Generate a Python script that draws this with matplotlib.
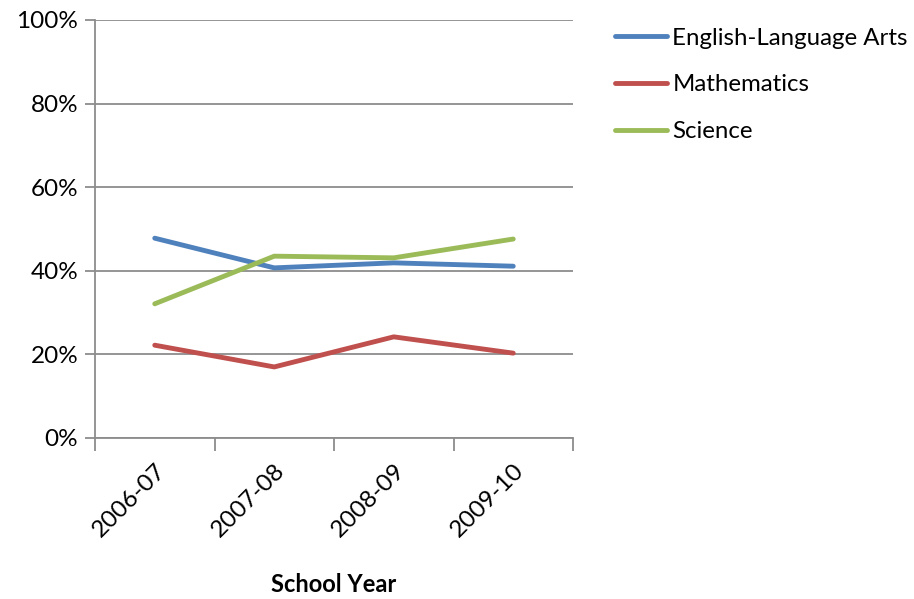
import matplotlib
matplotlib.use("Agg")
import matplotlib.pyplot as plt
from matplotlib.ticker import FixedLocator, PercentFormatter

plt.rcParams['font.family'] = ['Lato', 'DejaVu Sans']

years = ["2006-07", "2007-08", "2008-09", "2009-10"]
ela = [47.8, 40.7, 41.9, 41.1]
math = [22.2, 17.0, 24.2, 20.3]
science = [32.1, 43.5, 43.1, 47.6]

series = [
    ("English-Language Arts", ela, "#4F81BD"),
    ("Mathematics", math, "#C0504D"),
    ("Science", science, "#9BBB59"),
]

fig = plt.figure(figsize=(9.14, 5.99), dpi=100)
ax = fig.add_axes([95 / 914, (599 - 438) / 599, (573 - 95) / 914, (438 - 20) / 599])

xs = [i + 0.5 for i in range(len(years))]
handles = []
for name, vals, col in series:
    h, = ax.plot(xs, vals, color=col, lw=3.5, solid_capstyle='round', label=name)
    handles.append(h)

ax.set_xlim(0, len(years))
ax.set_ylim(0, 100)
ax.set_yticks(range(0, 101, 20))
ax.yaxis.set_major_formatter(PercentFormatter(decimals=0))
ax.grid(axis='y', color='#8c8c8c', lw=1.3)
ax.set_axisbelow(True)

ax.xaxis.set_major_locator(FixedLocator(range(len(years) + 1)))
ax.xaxis.set_minor_locator(FixedLocator(xs))
ax.set_xticklabels([], minor=False)
ax.set_xticklabels(years, minor=True, rotation=45, ha='right', va='top',
                   rotation_mode='anchor', fontsize=17.5)
ax.tick_params(axis='x', which='major', length=9, width=1.3, color='#8c8c8c')
ax.tick_params(axis='x', which='minor', length=0, pad=16)
ax.tick_params(axis='y', length=7, width=1.3, color='#8c8c8c', labelsize=17.5, pad=5)

for s in ['top', 'right']:
    ax.spines[s].set_visible(False)
for s in ['left', 'bottom']:
    ax.spines[s].set_color('#8c8c8c')
    ax.spines[s].set_linewidth(1.3)

fig.text(334 / 914, 1 - 585 / 599, "School Year", ha='center', va='center',
         fontsize=17, fontweight='bold')

fig.legend(handles=handles, loc='upper left', bbox_to_anchor=(593 / 914, 1 - 6 / 599),
           frameon=False, fontsize=17.3, handlelength=2.2, handletextpad=0.2,
           labelspacing=1.07)

fig.savefig("out.png", dpi=100)
